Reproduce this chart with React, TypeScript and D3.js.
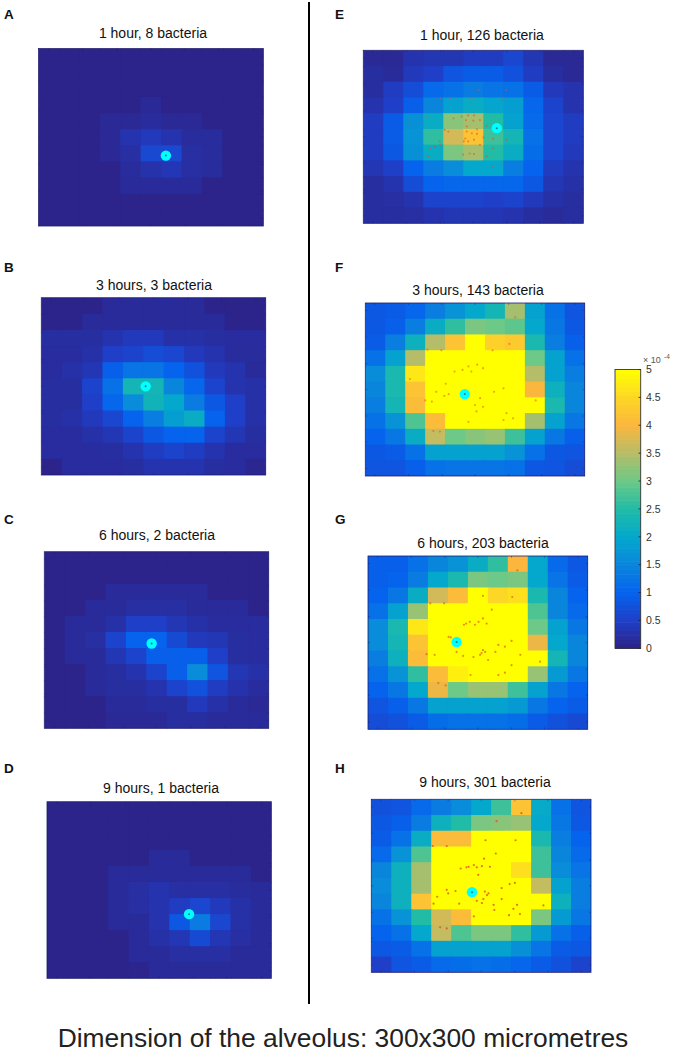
import * as d3 from "d3";

// concentration per cell, in units of 1e-4, rows top to bottom
const gridA = [
  [.03,.03,.03,.03,.03,.03,.03,.03,.03,.03,.03],
  [.03,.03,.03,.03,.03,.03,.03,.03,.03,.03,.03],
  [.03,.03,.03,.03,.03,.03,.03,.03,.03,.03,.03],
  [.03,.03,.03,.03,.03,.14,.03,.03,.03,.03,.03],
  [.03,.03,.03,.12,.12,.17,.12,.12,.03,.03,.03],
  [.03,.03,.03,.12,.3,.4,.3,.17,.17,.03,.03],
  [.03,.03,.03,.12,.22,.62,.62,.22,.17,.03,.03],
  [.03,.03,.03,.03,.17,.27,.36,.22,.17,.03,.03],
  [.03,.03,.03,.03,.15,.15,.15,.15,.03,.03,.03],
  [.03,.03,.03,.03,.03,.03,.03,.03,.03,.03,.03],
  [.03,.03,.03,.03,.03,.03,.03,.03,.03,.03,.03],
];
const gridB = [
  [.03,.03,.03,.15,.15,.15,.15,.15,.03,.03,.03],
  [.03,.03,.15,.15,.15,.15,.15,.15,.15,.03,.03],
  [.2,.2,.2,.3,.4,.4,.25,.25,.2,.18,.18],
  [.18,.18,.25,.5,.55,.7,.6,.4,.3,.17,.17],
  [.18,.25,.35,.95,1.25,1.25,1,.75,.4,.3,.15],
  [.2,.2,.55,1.2,2.3,2.3,1.5,1.05,.55,.3,.25],
  [.2,.2,.5,1.05,1.6,2.25,2,1.35,.85,.5,.25],
  [.2,.25,.4,.6,1,1.4,1.85,2.1,1,.5,.25],
  [.18,.18,.25,.35,.55,.85,1,1,.55,.35,.2],
  [.18,.18,.18,.2,.3,.45,.55,.45,.3,.18,.18],
  [.03,.18,.18,.18,.2,.3,.3,.3,.2,.18,.08],
];
const gridC = [
  [.03,.03,.03,.03,.03,.03,.03,.03,.03,.03,.03],
  [.03,.03,.03,.03,.03,.03,.03,.03,.03,.03,.03],
  [.03,.03,.03,.15,.15,.15,.15,.15,.03,.03,.03],
  [.03,.03,.15,.15,.22,.22,.22,.15,.15,.15,.03],
  [.03,.15,.15,.25,.5,.5,.35,.25,.18,.18,.18],
  [.03,.15,.22,.55,1,1,.65,.4,.35,.2,.18],
  [.03,.15,.15,.35,.55,.95,.95,.95,.5,.2,.18],
  [.03,.03,.15,.2,.3,.55,.95,1.6,.8,.35,.25],
  [.03,.03,.15,.2,.2,.3,.55,.75,.45,.28,.18],
  [.03,.03,.03,.15,.15,.2,.2,.4,.25,.15,.12],
  [.03,.03,.03,.12,.12,.12,.2,.2,.15,.15,.15],
];
const gridD = [
  [.03,.03,.03,.03,.03,.03,.03,.03,.03,.03,.03],
  [.03,.03,.03,.03,.03,.03,.03,.03,.03,.03,.03],
  [.03,.03,.03,.03,.03,.03,.03,.03,.03,.03,.03],
  [.03,.03,.03,.03,.03,.15,.15,.03,.03,.03,.03],
  [.03,.03,.03,.15,.15,.15,.15,.15,.15,.15,.03],
  [.03,.03,.03,.15,.22,.3,.22,.22,.22,.17,.15],
  [.03,.03,.03,.15,.22,.3,.45,.6,.4,.25,.15],
  [.03,.03,.03,.15,.15,.3,.85,1.35,.6,.25,.15],
  [.03,.03,.03,.03,.15,.25,.35,.65,.35,.22,.15],
  [.03,.03,.03,.03,.15,.15,.22,.22,.22,.15,.15],
  [.03,.03,.03,.03,.05,.15,.15,.15,.15,.15,.15],
];
const gridE = [
  [.12,.12,.3,.35,.35,.45,.45,.6,.35,.12,.12],
  [.2,.15,.4,.5,.8,.9,.9,.75,.45,.2,.12],
  [.2,.45,.7,1.1,1.2,1.35,1.25,1.2,.9,.4,.3],
  [.3,.5,.95,1.5,1.9,2.1,1.95,1.85,1.05,.55,.3],
  [.45,.9,1.65,2.1,3.2,3.4,2.5,1.9,1.1,.6,.45],
  [.45,.9,1.7,2.6,3.7,4.2,2.7,2.3,1.2,.6,.45],
  [.45,.85,1.65,2.1,3.1,3.4,2.5,2.1,1.15,.6,.4],
  [.35,.5,1,1.35,1.6,2,2,1.4,1,.45,.3],
  [.2,.3,.7,1,1.05,1.05,1.05,1.05,.85,.35,.25],
  [.2,.22,.3,.55,.55,.55,.5,.55,.4,.25,.2],
  [.2,.2,.22,.3,.35,.35,.35,.3,.2,.15,.2],
];
const gridF = [
  [.85,.9,1.05,1.4,1.7,2,2.3,3.4,1.9,1.2,.8],
  [.85,.95,1.4,2.1,2.6,3.1,3,2.9,2,1.3,.85],
  [.9,1.4,2.2,3.5,4.2,5,4.4,4.3,2.4,1.4,.95],
  [1.2,1.9,3.5,5,5,5,5,5,3,1.9,1.2],
  [1.6,2.4,4.7,5,5,5,5,5,3.5,1.9,1.4],
  [1.5,2.4,4.2,5,5,5,5,5,4,2.2,1.5],
  [1.4,2.3,4.1,5,5,5,5,5,5,2.4,1.5],
  [1.2,1.7,2.8,4.1,5,5,5,5,3.4,1.9,1.3],
  [1,1.3,2.1,3.6,3,3.2,3.3,2.7,1.9,1.3,.95],
  [.85,.9,1.2,1.9,1.9,1.9,1.9,1.7,1.2,.85,.8],
  [.8,.8,.95,1.2,1.25,1.25,1.25,1.2,.85,.8,.7],
];
const gridG = [
  [.95,.95,1.2,1.5,1.7,2.1,2.6,4,2,1.1,.85],
  [.95,1,1.35,2,2.4,3.1,3,3.1,2,1.25,.9],
  [1,1.3,2.1,3.7,4.1,5,4.5,4.6,2.4,1.5,1],
  [1.2,1.9,3.3,5,5,5,5,5,2.8,1.5,1.1],
  [1.6,2.4,4.7,5,5,5,5,5,3,1.9,1.3],
  [1.6,2.3,4.2,5,5,5,5,5,3.9,2,1.5],
  [1.4,2.2,4.1,5,5,5,5,5,5,2.3,1.5],
  [1.2,1.7,2.6,4.1,4.8,5,5,5,3.3,1.8,1.3],
  [1,1.3,2,3.9,3,3.3,3.3,2.7,1.9,1.3,1],
  [.8,.95,1.3,1.9,1.9,1.9,1.9,1.8,1.3,1,.9],
  [.7,.75,.9,1.15,1.2,1.2,1.2,1.15,.9,.75,.65],
];
const gridH = [
  [.75,.8,1.1,1.35,1.6,2,2.7,4.2,2.05,1.2,.8],
  [.85,.95,1.35,2.2,2.5,3.1,3.2,3.3,2,1.3,.85],
  [.9,1.2,2.1,4.1,4.1,5,5,5,2.4,1.4,1],
  [1.1,1.7,2.8,5,5,5,5,5,2.7,1.5,1.1],
  [1.5,2.2,3.4,5,5,5,5,4.6,2.7,1.6,1.25],
  [1.6,2.2,3.4,5,5,5,5,5,3.6,1.9,1.4],
  [1.5,2.2,4.2,5,5,5,5,5,5,2.2,1.4],
  [1.2,1.7,2.5,3.7,4.1,5,5,5,3.1,1.8,1.3],
  [1,1.2,2,3.6,2.8,3.1,3.1,2.6,1.8,1.2,.95],
  [.85,.9,1.2,1.9,1.9,1.9,1.9,1.65,1.25,.9,.85],
  [.5,.8,.9,1.1,1.15,1.2,1.15,1.05,.9,.75,.55],
];

// bacteria positions in micrometres
const bacteriaE = [[87,116],[63,130],[123,118],[134,115],[143,113],[151,113],[140,121],[150,122],[159,121],[105,83],[119,83],[147,83],[158,69],[195,69],[190,85],[141,132],[155,137],[168,131],[116,141],[111,138],[141,141],[148,144],[155,145],[139,153],[137,158],[143,158],[151,155],[104,158],[105,164],[91,170],[89,184],[98,167],[159,164],[164,151],[177,153],[195,155],[145,179],[151,180],[136,181],[177,170],[189,199],[176,202],[168,184]];
const bacteriaF = [[205,25],[104,82],[85,81],[174,82],[197,71],[61,132],[122,119],[133,116],[141,110],[153,107],[145,119],[161,113],[110,140],[114,158],[108,161],[97,154],[82,169],[91,171],[150,177],[157,165],[161,180],[176,154],[189,148],[152,188],[189,203],[202,200],[141,206],[93,222],[102,223],[233,169],[193,191]];
const bacteriaG = [[204,25],[197,71],[157,69],[104,82],[85,82],[134,117],[131,119],[139,114],[146,119],[151,114],[157,108],[162,117],[169,93],[110,140],[113,141],[80,170],[91,171],[121,166],[157,163],[155,168],[160,166],[153,171],[178,154],[187,157],[196,147],[130,173],[144,175],[196,189],[140,206],[178,206],[187,202],[235,183],[96,220],[106,224],[164,180],[174,166],[208,171]];
const bacteriaH = [[205,24],[197,71],[156,71],[171,38],[103,81],[84,81],[122,120],[130,118],[133,117],[140,114],[144,118],[151,116],[162,117],[154,103],[170,94],[146,131],[103,157],[105,163],[115,159],[90,169],[85,181],[120,181],[144,176],[151,180],[153,173],[158,166],[160,163],[155,160],[178,154],[189,147],[196,145],[178,173],[167,183],[168,192],[199,183],[194,190],[188,201],[203,199],[235,184],[140,203],[94,222],[103,224]];

const colorStops = [0, .5, 1, 1.5, 2, 2.5, 3, 3.5, 4, 4.5, 5];
const colorValues = ["#2d2286", "#1f3fc8", "#0563ee", "#0a85dc", "#04a8cc", "#20bca6", "#6cc987", "#b5bd68", "#fbb63e", "#fdd725", "#ffff00"];
const barTicks = [0, .5, 1, 1.5, 2, 2.5, 3, 3.5, 4, 4.5, 5];
const axisTicks = [13, 59, 105, 150, 196, 241, 287];

const color = d3.scaleLinear<string>().domain(colorStops).range(colorValues).clamp(true);
const cells = d3.range(11);

const panels = [
  { letter: "A", lx: 4, ly: 19, title: "1 hour, 8 bacteria", tx: 153, ty: 38, box: [38.5, 48.5, 263.3, 226], grid: gridA, cyan: [170, 181], dots: [], dotAlpha: 0 },
  { letter: "B", lx: 4, ly: 272, title: "3 hours, 3 bacteria", tx: 154, ty: 290, box: [41.3, 297.7, 265.7, 475], grid: gridB, cyan: [139.5, 150], dots: [], dotAlpha: 0 },
  { letter: "C", lx: 4, ly: 524, title: "6 hours, 2 bacteria", tx: 157, ty: 540, box: [44.3, 551.7, 268.7, 728.3], grid: gridC, cyan: [143.5, 156], dots: [], dotAlpha: 0 },
  { letter: "D", lx: 4, ly: 773, title: "9 hours, 1 bacteria", tx: 161, ty: 793, box: [47, 801.7, 271.3, 978.3], grid: gridD, cyan: [190, 191], dots: [], dotAlpha: 0 },
  { letter: "E", lx: 335, ly: 19, title: "1 hour, 126 bacteria", tx: 482, ty: 40, box: [363.3, 50.3, 583.3, 223.3], grid: gridE, cyan: [182, 135], dots: bacteriaE, dotAlpha: 0.5 },
  { letter: "F", lx: 335, ly: 272, title: "3 hours, 143 bacteria", tx: 478, ty: 295, box: [365.3, 303, 584.7, 476], grid: gridF, cyan: [136, 158], dots: bacteriaF, dotAlpha: 0.5 },
  { letter: "G", lx: 335, ly: 524, title: "6 hours, 203 bacteria", tx: 483, ty: 548, box: [368, 556, 587.7, 729.3], grid: gridG, cyan: [121, 149], dots: bacteriaG, dotAlpha: 0.65 },
  { letter: "H", lx: 335, ly: 773, title: "9 hours, 301 bacteria", tx: 485, ty: 787, box: [371.3, 799.3, 591, 972.3], grid: gridH, cyan: [137.5, 161], dots: bacteriaH, dotAlpha: 0.8 },
];

const sans = "'Liberation Sans', Arial, sans-serif";

function Panel({ p }) {
  const [x0, y0, x1, y1] = p.box;
  const col = d3.scaleBand<number>().domain(cells).range([x0, x1]);
  const row = d3.scaleBand<number>().domain(cells).range([y0, y1]);
  const x = d3.scaleLinear([0, 300], [x0, x1]);
  const y = d3.scaleLinear([0, 300], [y0, y1]);
  const clip = `clip-${p.letter}`;
  return (
    <g>
      <text x={p.lx} y={p.ly} fontFamily={sans} fontWeight="bold" fontSize={13.5} fill="#111">{p.letter}</text>
      <text x={p.tx} y={p.ty} textAnchor="middle" fontFamily={sans} fontSize={14} fill="#111">{p.title}</text>
      <clipPath id={clip}>
        <rect x={x0} y={y0} width={x1 - x0} height={y1 - y0} />
      </clipPath>
      <g clipPath={`url(#${clip})`}>
        {/* cells overlap the next one by a pixel so no seam shows */}
        {p.grid.map((r, j) =>
          r.map((v, i) => (
            <rect key={`${j}-${i}`} x={col(i)} y={row(j)} width={col.bandwidth() + 1} height={row.bandwidth() + 1} fill={color(v)} />
          ))
        )}
        {p.dots.map((d, i) => (
          <circle key={i} cx={x(d[0])} cy={y(d[1])} r={1.1} fill="#e2501e" opacity={p.dotAlpha} />
        ))}
      </g>
      <rect x={x0} y={y0} width={x1 - x0} height={y1 - y0} fill="none" stroke="#1c1c6e" strokeWidth={0.8} />
      {axisTicks.map((t) => (
        <g key={t} stroke="#1c1c6e" strokeWidth={0.5} opacity={0.7}>
          <line x1={x(t)} x2={x(t)} y1={y0} y2={y0 + 2} />
          <line x1={x(t)} x2={x(t)} y1={y1 - 2} y2={y1} />
          <line x1={x0} x2={x0 + 2} y1={y(t)} y2={y(t)} />
          <line x1={x1 - 2} x2={x1} y1={y(t)} y2={y(t)} />
        </g>
      ))}
      <circle cx={x(p.cyan[0])} cy={y(p.cyan[1])} r={5.2} fill="#0ff" />
      <circle cx={x(p.cyan[0])} cy={y(p.cyan[1])} r={1} fill="#12807f" />
    </g>
  );
}

function ColorBar() {
  const y = d3.scaleLinear([0, 5], [648.3, 369.5]);
  const levels = d3.range(0, 5, 5 / 64);
  const h = (y(0) - y(5)) / 64;
  return (
    <g>
      {levels.map((v) => (
        <rect key={v} x={615} y={y(v) - h} width={25.7} height={h + 0.6} fill={color(v + 5 / 128)} />
      ))}
      <rect x={615} y={369.5} width={25.7} height={278.8} fill="none" stroke="#333" strokeWidth={0.9} />
      {barTicks.map((t) => (
        <g key={t}>
          <line x1={638.5} x2={640.7} y1={y(t)} y2={y(t)} stroke="#222" strokeWidth={0.8} />
          <text x={646} y={y(t) + 3.8} fontFamily={sans} fontSize={10.5} fill="#333">{t}</text>
        </g>
      ))}
      <text x={643} y={363} fontFamily={sans} fontSize={9} fill="#555">× 10</text>
      <text x={664} y={359} fontFamily={sans} fontSize={6.5} fill="#555">-4</text>
    </g>
  );
}

export default function App() {
  return (
    <svg width={675} height={1053} style={{ position: "absolute", left: 0, top: 0, display: "block", background: "#fff" }}>
      {panels.map((p) => <Panel key={p.letter} p={p} />)}
      <line x1={309} x2={309} y1={2} y2={1004} stroke="#000" strokeWidth={2} />
      <ColorBar />
      <text x={343} y={1047} textAnchor="middle" fontFamily={sans} fontSize={26.4} fill="#222">Dimension of the alveolus: 300x300 micrometres</text>
    </svg>
  );
}
